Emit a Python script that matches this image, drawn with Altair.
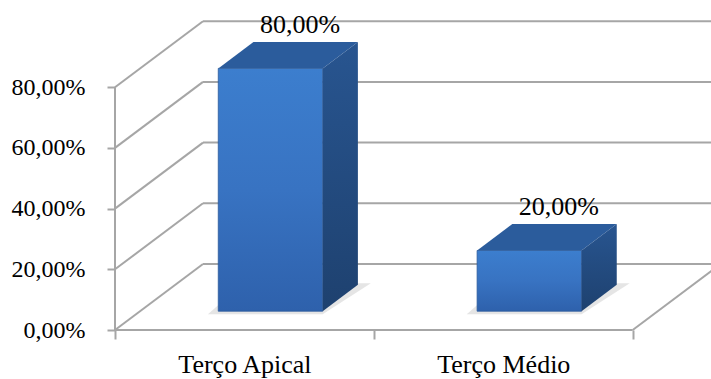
import altair as alt
import pandas as pd

# ---------------- data ----------------
categories = ["Terço Apical", "Terço Médio"]
values = [80.0, 20.0]
y_ticks = [0, 20, 40, 60, 80]

# ---------------- style / projection constants ----------------
PX_CAT = 258.85          # pixels per category on the front plane
PX_PCT = 3.035           # pixels per percentage point
W, H = 596, 330          # plot area
X_MAX = W / PX_CAT
Y_MAX = H / PX_PCT
DXU = 88 / PX_CAT        # depth vector (x, in category units)
DYU = 66 / PX_PCT        # depth vector (y, in percent units)
BAR_GAP = 0.302
BAR_W = 0.4035
Z0, Z1 = 0.285, 0.685
Z_LABEL = 0.62
GRID = "#A6A6A6"
FONT = "Liberation Serif, Times New Roman, serif"

n = len(categories)
xs = alt.Scale(domain=[0, X_MAX], nice=False, zero=False)
ys = alt.Scale(domain=[0, Y_MAX], nice=False, zero=False)

# ---------------- derived tables ----------------
back = pd.DataFrame({"x": [DXU] * len(y_ticks), "x2": [X_MAX] * len(y_ticks),
                     "y": [t + DYU for t in y_ticks]})
side_wall = pd.DataFrame({"x": [0.0] * len(y_ticks), "x2": [DXU] * len(y_ticks),
                          "y": [float(t) for t in y_ticks], "y2": [t + DYU for t in y_ticks]})
edges = pd.DataFrame({
    "x": [0.0, float(n), 0.0],
    "x2": [float(n), n + DXU, 0.0],
    "y": [0.0, 0.0, 0.0],
    "y2": [0.0, DYU, float(max(y_ticks))],
})

front_rows, top_rows, side_rows, shadow_rows, label_rows = [], [], [], [], []
for i, (c, v) in enumerate(zip(categories, values)):
    xl = i + BAR_GAP
    xr = xl + BAR_W
    front_rows.append({"cat": c, "x": xl + Z0 * DXU, "x2": xr + Z0 * DXU,
                       "y": Z0 * DYU, "y2": v + Z0 * DYU})
    for z in (Z0, Z1):
        top_rows.append({"cat": c, "y": v + z * DYU, "x": xl + z * DXU, "x2": xr + z * DXU})
        side_rows.append({"cat": c, "x": xr + z * DXU, "y": z * DYU, "y2": v + z * DYU})
    shadow_rows.append({"cat": c, "y": Z0 * DYU - 1.0, "x": xl + Z0 * DXU - 0.04, "x2": xr + Z0 * DXU})
    shadow_rows.append({"cat": c, "y": Z1 * DYU + 0.5, "x": xl + Z1 * DXU - 0.04, "x2": xr + Z1 * DXU + 0.05})
    label_rows.append({"cat": c, "value": v, "x": xl + BAR_W / 2 + Z_LABEL * DXU, "y": v + Z1 * DYU})

front = pd.DataFrame(front_rows)
top = pd.DataFrame(top_rows)
side = pd.DataFrame(side_rows)
shadow = pd.DataFrame(shadow_rows)
labels = pd.DataFrame(label_rows)

# ---------------- axes (identical in every layer so they merge) ----------------
x_label_expr = " : ".join(
    [f"datum.value == {i} ? '{c}'" for i, c in enumerate(categories)]) + " : ''"
x_axis = alt.Axis(values=list(range(n + 1)), labelExpr=x_label_expr, labelOffset=PX_CAT / 2,
                  tickSize=9, tickColor=GRID, tickWidth=2, domain=False, grid=False,
                  labelFont=FONT, labelFontSize=26, labelColor="black", labelPadding=33,
                  labelBaseline="alphabetic", labelFlush=False, labelOverlap=False,
                  labelBound=False, title=None)
y_axis = alt.Axis(values=y_ticks,
                  labelExpr="replace(format(datum.value, '.2f'), '.', ',') + '%'",
                  tickSize=8, tickColor=GRID, tickWidth=2, domain=False, grid=False,
                  labelFont=FONT, labelFontSize=24, labelColor="black", labelPadding=22,
                  labelBaseline="middle", labelOverlap=False, labelBound=False, title=None)


def X(f):
    return alt.X(f, type="quantitative", scale=xs, axis=x_axis)


def Y(f):
    return alt.Y(f, type="quantitative", scale=ys, axis=y_axis)


# ---------------- layers ----------------
back_lines = alt.Chart(back).mark_rule(color=GRID, strokeWidth=2).encode(
    x=X("x"), x2="x2", y=Y("y"))
wall_lines = alt.Chart(side_wall).mark_rule(color=GRID, strokeWidth=2).encode(
    x=X("x"), x2="x2", y=Y("y"), y2="y2")
edge_lines = alt.Chart(edges).mark_rule(color=GRID, strokeWidth=2).encode(
    x=X("x"), x2="x2", y=Y("y"), y2="y2")

shadow_l = alt.Chart(shadow).mark_area(orient="horizontal", color="#A0A0A0", opacity=0.28).encode(
    y=Y("y"), x=X("x"), x2="x2", detail="cat:N")

front_grad = alt.Gradient(gradient="linear", x1=0, x2=0, y1=0, y2=1,
                          stops=[alt.GradientStop(color="#3C7ECE", offset=0),
                                 alt.GradientStop(color="#3873C2", offset=0.5),
                                 alt.GradientStop(color="#2E61AC", offset=1)])
side_grad = alt.Gradient(gradient="linear", x1=0, x2=0, y1=0, y2=1,
                         stops=[alt.GradientStop(color="#285590", offset=0),
                                alt.GradientStop(color="#1E416F", offset=1)])

front_l = alt.Chart(front).mark_rect(fill=front_grad, stroke="#2C5A9C", strokeWidth=0.8).encode(
    x=X("x"), x2="x2", y=Y("y"), y2="y2")
top_l = alt.Chart(top).mark_area(orient="horizontal", fill="#2B5C9C").encode(
    y=Y("y"), x=X("x"), x2="x2", detail="cat:N")
side_l = alt.Chart(side).mark_area(orient="vertical", fill=side_grad).encode(
    x=X("x"), y=Y("y"), y2="y2", detail="cat:N")

text_l = alt.Chart(labels).transform_calculate(
    txt="replace(format(datum.value, '.2f'), '.', ',') + '%'"
).mark_text(font=FONT, fontSize=26, baseline="alphabetic", align="center", dy=-9,
            color="black").encode(
    x=X("x"), y=Y("y"), text="txt:N")

chart = alt.layer(back_lines, wall_lines, edge_lines, shadow_l, front_l, top_l, side_l, text_l
).properties(
    width=W, height=H,
    background="white",
    autosize=alt.AutoSizeParams(type="none"),
    padding={"left": 115, "top": 0, "right": 0, "bottom": 49},
).configure_view(stroke=None)

chart.save("out.html", embed_options={"renderer": "svg", "actions": False})
